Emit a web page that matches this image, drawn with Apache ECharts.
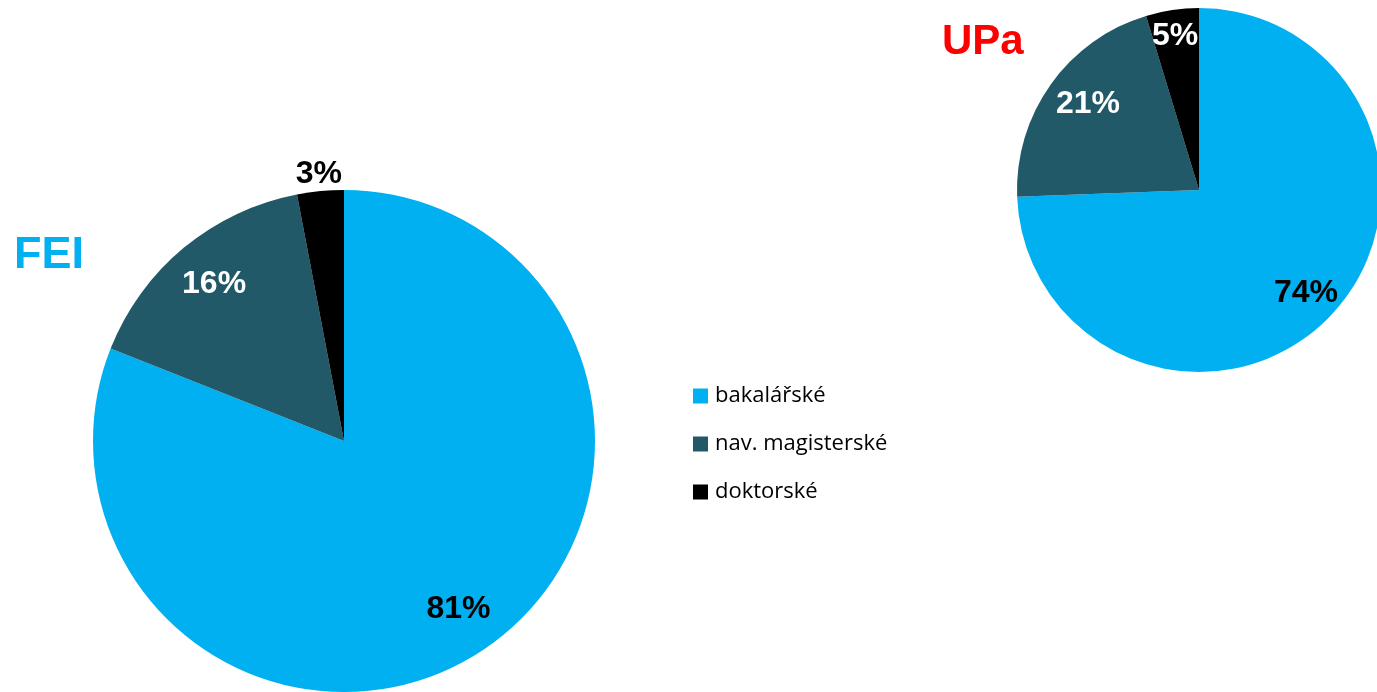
<!DOCTYPE html>
<html>
<head>
<meta charset="utf-8">
<script src="https://cdn.jsdelivr.net/npm/echarts@6/dist/echarts.min.js"></script>
<style>
    html, body { margin: 0; padding: 0; background: #fff; }
    #chart { width: 1377px; height: 692px; }
</style>
</head>
<body>
<div id="chart"></div>
<script>
// typy studia
var categories = ['bakalářské', 'nav. magisterské', 'doktorské'];
var colors = ['#00b0f0', '#215968', '#000000'];
// podíly v % (popisky se zaokrouhlují)
var feiValues = [81, 16, 3];
var upaValues = [74.4, 20.9, 4.7];
var feiLabelColors = ['#000', '#fff', '#000'];
var upaLabelColors = ['#000', '#fff', '#fff'];

var narrow = '"Liberation Sans Narrow", "Arial Narrow", "Liberation Sans", sans-serif';

function pieData(values, labelColors, shift) {
    var data = [];
    for (var i = 0; i < values.length; i++) {
        var item = {name: categories[i], value: values[i], label: {color: labelColors[i]}};
        if (shift && shift[i]) {
            item.label.offset = shift[i];
        }
        data.push(item);
    }
    return data;
}

function fillSeries(values, center, r) {
    return {
        type: 'pie',
        center: center,
        radius: [0, r],
        startAngle: 90,
        clockwise: true,
        silent: true,
        label: {show: false},
        labelLine: {show: false},
        data: categories.map(function (c, i) {
            return {name: c, value: values[i], itemStyle: {color: colors[i]}};
        })
    };
}

// prstenec jen pro popisky (umisti je na ~0.8 polomeru)
function labelSeries(values, labelColors, center, r, shift) {
    return {
        type: 'pie',
        center: center,
        radius: [r * 0.6, r],
        startAngle: 90,
        clockwise: true,
        silent: true,
        itemStyle: {color: 'rgba(0,0,0,0)'},
        label: {
            show: true,
            position: 'inside',
            formatter: function (p) { return Math.round(p.value) + '%'; },
            fontFamily: narrow,
            fontWeight: 'bold',
            fontSize: 32
        },
        labelLine: {show: false},
        data: pieData(values, labelColors, shift)
    };
}

var chart = echarts.init(document.getElementById('chart'));
var option = {
    backgroundColor: '#fff',
    animation: false,
    title: [{
        text: 'FEI',
        left: 9,
        top: 228,
        textStyle: {color: '#00b0f0', fontFamily: narrow, fontWeight: 'bold', fontSize: 45}
    }, {
        text: 'UPa',
        left: 937,
        top: 16,
        textStyle: {color: '#ff0000', fontFamily: narrow, fontWeight: 'bold', fontSize: 42}
    }],
    legend: {
        orient: 'vertical',
        left: 688,
        top: 380,
        itemWidth: 15,
        itemHeight: 15,
        itemGap: 26,
        icon: 'rect',
        data: categories,
        textStyle: {color: '#000', fontSize: 22, fontFamily: '"Open Sans", sans-serif', padding: [0, 0, 0, 2]}
    },
    series: [
        fillSeries(feiValues, [344, 441], 251),
        fillSeries(upaValues, [1199, 190], 182),
        labelSeries(feiValues, feiLabelColors, [344, 441], 251, [null, null, [-6, -64]]),
        labelSeries(upaValues, upaLabelColors, [1199, 190], 182, [null, [10, 0], [-2, -7]])
    ]
};
chart.setOption(option);
</script>
</body>
</html>
